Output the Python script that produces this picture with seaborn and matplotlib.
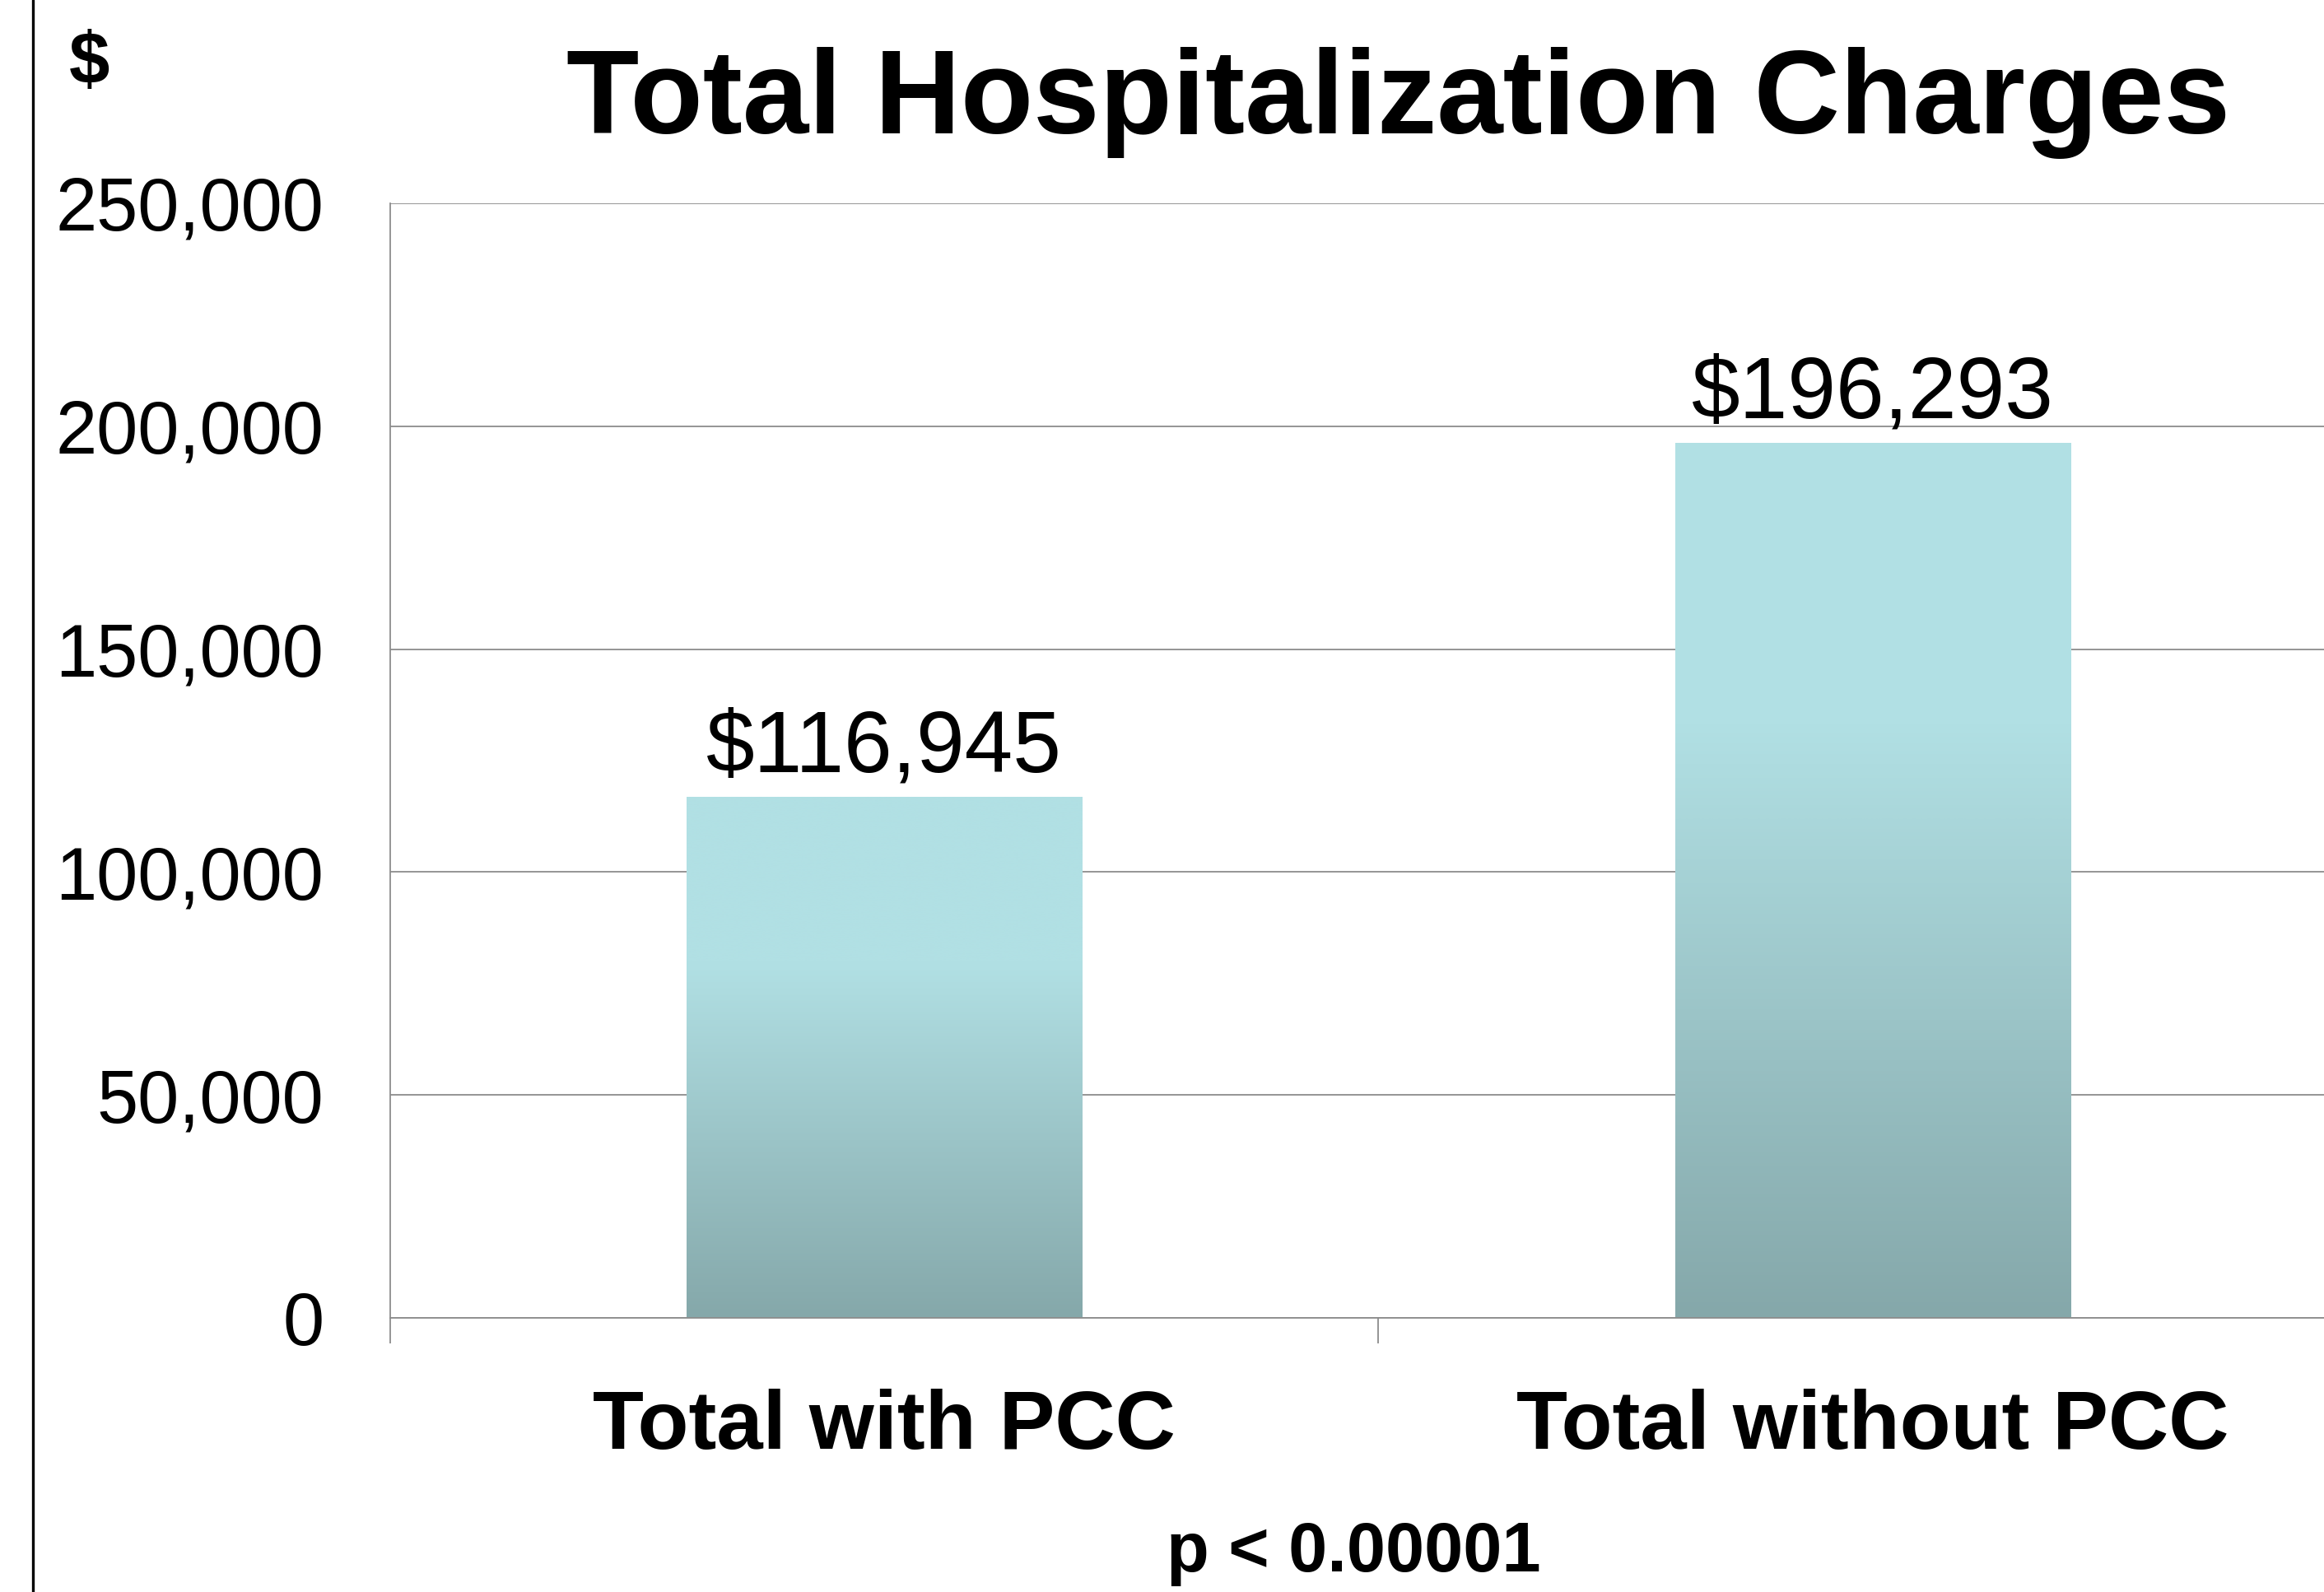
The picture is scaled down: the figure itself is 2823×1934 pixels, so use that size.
import numpy as np
import matplotlib
matplotlib.use('Agg')
import matplotlib.pyplot as plt
import matplotlib.colors as mcolors
import seaborn as sns

sns.set_style('white')
plt.rcParams['font.family'] = ['Liberation Sans', 'DejaVu Sans']
plt.rcParams['text.color'] = 'black'
plt.rcParams['xtick.color'] = 'black'
plt.rcParams['ytick.color'] = 'black'

### data
categories = ['Total with PCC', 'Total without PCC']
charges = [116945, 196293]
yticks = [0, 50000, 100000, 150000, 200000, 250000]

grid_gray = '#8c8c8c'
top_col = '#b1e0e4'
bottom_col = '#85a8aa'

fig = plt.figure(figsize=(28.23, 19.34), dpi=100)
ax = fig.add_axes([0.1679, 0.1722, 0.8505, 0.7001])

sns.barplot(x=categories, y=charges, width=0.4, color=top_col, ax=ax,
            edgecolor='none', linewidth=0)

ax.set_xlim(-0.5, 1.5)
ax.set_ylim(0, 250000)
ax.set_axisbelow(True)

### vertical gradient in each bar (light top, darker lower part)
cmap = mcolors.LinearSegmentedColormap.from_list(
    'bar', [(0, bottom_col), (0.68, top_col), (1, top_col)])
grad = np.linspace(0, 1, 256).reshape(-1, 1)
for p in ax.patches:
    x0, w, h = p.get_x(), p.get_width(), p.get_height()
    im = ax.imshow(grad, cmap=cmap, origin='lower', aspect='auto',
                   extent=[x0, x0 + w, 0, h], zorder=2, interpolation='bicubic')
    im.set_clip_path(p)
ax.set_xlim(-0.5, 1.5)
ax.set_ylim(0, 250000)

### value labels
for i, v in enumerate(charges):
    ax.annotate(f'${v:,}', (i, v), xytext=(0, 22), textcoords='offset points',
                ha='center', va='baseline', fontsize=76)

### axes styling
ax.set_yticks(yticks)
ax.set_yticklabels([f'{t:,}' for t in yticks])
ax.yaxis.grid(True, color=grid_gray, linewidth=1.3)
ax.tick_params(axis='y', length=0, pad=58, labelsize=65)
ax.tick_params(axis='x', which='major', length=0, pad=62, labelsize=73)
for lbl in ax.get_xticklabels():
    lbl.set_fontweight('bold')
ax.set_xticks([-0.5, 0.5, 1.5], minor=True)
ax.tick_params(axis='x', which='minor', bottom=True, length=22, width=1.3,
               color=grid_gray, direction='out')
for side in ['top', 'right']:
    ax.spines[side].set_visible(False)
for side in ['left', 'bottom']:
    ax.spines[side].set_color(grid_gray)
    ax.spines[side].set_linewidth(1.3)
ax.set_xlabel('')
ax.set_ylabel('')

### surrounding texts
fig.text(0.6015, 0.9162, 'Total Hospitalization Charges', ha='center',
         va='baseline', fontsize=104, fontweight='bold')
fig.text(0.0383, 0.9597, '$', ha='center', va='center', fontsize=64,
         fontweight='bold')
fig.text(0.5823, 0.0243, 'p < 0.00001', ha='center', va='center',
         fontsize=61, fontweight='bold')

### black vertical rule at the left edge
fig.add_artist(plt.Line2D([0.0142, 0.0142], [0, 1], color='black',
                          linewidth=2.4, transform=fig.transFigure))

fig.savefig('out.png', dpi=100)
